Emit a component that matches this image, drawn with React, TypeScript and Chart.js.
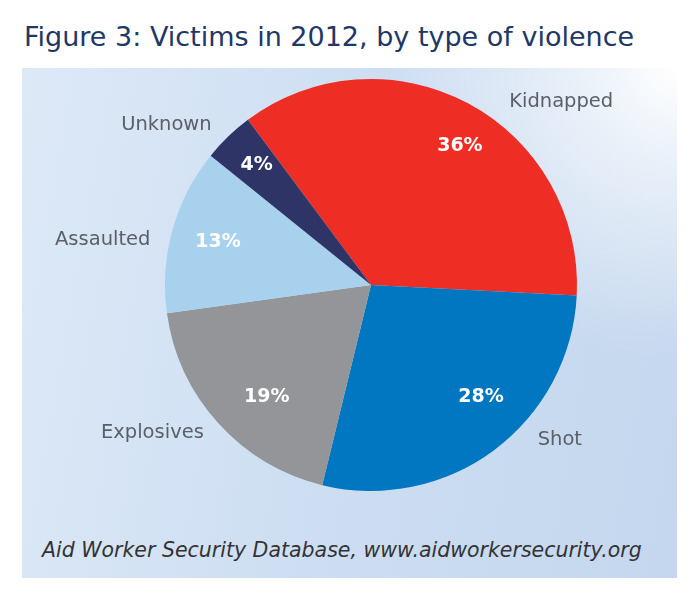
import { useEffect, useRef } from "react";
import { Chart } from "chart.js/auto";
import type { ChartConfiguration, Plugin } from "chart.js/auto";

const categories = ["Kidnapped", "Shot", "Explosives", "Assaulted", "Unknown"];
const shares = [36, 28, 19, 13, 4];
const percentLabels = ["36%", "28%", "19%", "13%", "4%"];
const sliceColors = ["#EE2E24", "#0077C0", "#939598", "#A8D1EE", "#2E3466"];

// manual label placement: degrees off the slice middle, px from centre
const innerAngleShift = [4.5, -7.8, -5, 0.2, 0.4];
const innerDistance = [165, 157, 153, 159, 166];
const outerAngleShift = [18, -14, 8, -6, -8];
const outerDistance = [264, 244, 264, 272, 260];

const FONT = "'DejaVu Sans', 'Open Sans', sans-serif";

const labelPlugin: Plugin<"pie"> = {
  id: "sliceLabels",
  afterDatasetsDraw(chart) {
    const { ctx } = chart;
    const meta = chart.getDatasetMeta(0);
    ctx.save();
    ctx.textAlign = "center";
    ctx.textBaseline = "middle";
    meta.data.forEach((el, i) => {
      const { x, y, startAngle, endAngle } = (el as any).getProps(
        ["x", "y", "startAngle", "endAngle"],
        true
      );
      const mid = (startAngle + endAngle) / 2;
      const ai = mid + (innerAngleShift[i] * Math.PI) / 180;
      ctx.fillStyle = "#ffffff";
      ctx.font = `bold 19px ${FONT}`;
      ctx.fillText(
        percentLabels[i],
        x + Math.cos(ai) * innerDistance[i],
        y + Math.sin(ai) * innerDistance[i]
      );

      const ao = mid + (outerAngleShift[i] * Math.PI) / 180;
      ctx.fillStyle = "#5B6068";
      ctx.font = `19.5px ${FONT}`;
      ctx.fillText(
        categories[i],
        x + Math.cos(ao) * outerDistance[i],
        y + Math.sin(ao) * outerDistance[i]
      );
    });
    ctx.restore();
  },
};

function VictimsPie() {
  const canvasRef = useRef<HTMLCanvasElement>(null);
  const chartRef = useRef<Chart<"pie"> | null>(null);

  useEffect(() => {
    if (!canvasRef.current) return;
    if (chartRef.current) chartRef.current.destroy();

    const config: ChartConfiguration<"pie"> = {
      type: "pie",
      data: {
        labels: categories,
        datasets: [
          {
            data: shares,
            backgroundColor: sliceColors,
            borderWidth: 0,
          },
        ],
      },
      options: {
        animation: false,
        responsive: false,
        rotation: -36.7,
        layout: { padding: { left: 165, right: 115, top: 79, bottom: 112 } },
        plugins: {
          legend: { display: false },
          tooltip: { enabled: false },
        },
      },
      plugins: [labelPlugin],
    };

    chartRef.current = new Chart(canvasRef.current, config);
    return () => {
      if (chartRef.current) chartRef.current.destroy();
      chartRef.current = null;
    };
  }, []);

  return (
    <div style={{ position: "relative", width: 692, height: 603, background: "#fff" }}>
      <div
        style={{
          position: "absolute",
          left: 24,
          top: 21,
          fontFamily: FONT,
          fontSize: 27,
          color: "#213766",
          whiteSpace: "nowrap",
        }}
      >
        Figure 3: Victims in 2012, by type of violence
      </div>
      <div
        style={{
          position: "absolute",
          left: 22,
          top: 68,
          width: 655,
          height: 510,
          background:
            "radial-gradient(circle at 100% 0%, #ffffff 0%, rgba(255,255,255,0.6) 12%, rgba(255,255,255,0) 35%), linear-gradient(100deg, #dde9f7 0%, #cddef2 50%, #c4d7ee 100%)",
        }}
      />
      <div
        style={{
          position: "absolute",
          left: 42,
          top: 538,
          fontFamily: FONT,
          fontStyle: "italic",
          fontSize: 20.5,
          color: "#333",
          whiteSpace: "nowrap",
        }}
      >
        Aid Worker Security Database, www.aidworkersecurity.org
      </div>
      <canvas
        ref={canvasRef}
        width={692}
        height={603}
        style={{ position: "absolute", left: 0, top: 0 }}
      />
    </div>
  );
}

export default function App() {
  useEffect(() => {
    document.body.style.margin = "0";
  }, []);
  return <VictimsPie />;
}
